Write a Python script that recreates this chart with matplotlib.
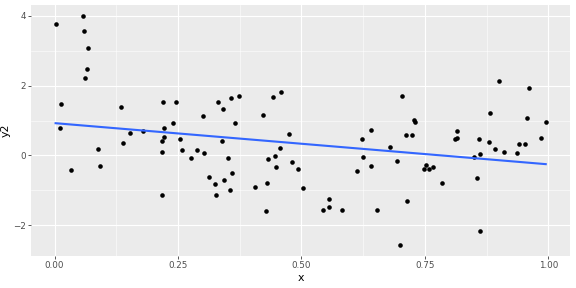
import numpy as np
import matplotlib
matplotlib.use("Agg")
import matplotlib.pyplot as plt

# points
x = [0.002, 0.0575, 0.0595, 0.067, 0.0655, 0.0615, 0.013, 0.011, 0.0325, 0.088,
     0.091, 0.134, 0.139, 0.152, 0.178, 0.219, 0.245, 0.239, 0.222, 0.221,
     0.218, 0.218, 0.217, 0.2545, 0.258, 0.277, 0.289, 0.303, 0.300, 0.330,
     0.342, 0.358, 0.3725, 0.366, 0.339, 0.352, 0.312, 0.325, 0.326, 0.344,
     0.359, 0.356, 0.406, 0.4305, 0.4285, 0.423, 0.443, 0.4595, 0.4745, 0.4555,
     0.447, 0.433, 0.449, 0.481, 0.4925, 0.5035, 0.543, 0.555, 0.555, 0.582,
     0.612, 0.6255, 0.623, 0.640, 0.641, 0.652, 0.680, 0.693, 0.703, 0.713,
     0.6995, 0.711, 0.724, 0.727, 0.730, 0.748, 0.752, 0.758, 0.767, 0.784,
     0.811, 0.815, 0.815, 0.849, 0.855, 0.861, 0.859, 0.861, 0.881, 0.880,
     0.892, 0.900, 0.911, 0.937, 0.940, 0.9535, 0.957, 0.9615, 0.9845, 0.9947]
y2 = [3.77, 3.99, 3.57, 3.09, 2.49, 2.22, 1.48, 0.78, -0.42, 0.17,
      -0.30, 1.38, 0.36, 0.65, 0.70, 1.53, 1.53, 0.94, 0.78, 0.53,
      0.40, 0.11, -1.13, 0.48, 0.16, -0.08, 0.15, 0.06, 1.12, 1.53,
      1.32, 1.64, 1.69, 0.94, 0.42, -0.07, -0.62, -0.83, -1.13, -0.70,
      -0.50, -1.00, -0.90, -0.78, -1.60, 1.16, 1.67, 1.81, 0.62, 0.21,
      -0.02, -0.11, -0.33, -0.18, -0.39, -0.94, -1.56, -1.26, -1.49, -1.58,
      -0.44, -0.04, 0.47, 0.74, -0.30, -1.57, 0.25, -0.15, 1.71, -1.30,
      -2.56, 0.59, 0.59, 1.02, 0.97, -0.39, -0.28, -0.40, -0.32, -0.78,
      0.48, 0.50, 0.71, -0.04, -0.64, 0.04, 0.48, -2.18, 1.23, 0.37,
      0.19, 2.14, 0.10, 0.07, 0.32, 0.32, 1.07, 1.94, 0.50, 0.96]

x = np.array(x)
y2 = np.array(y2)

fig = plt.figure(figsize=(8, 4), dpi=72)
ax = fig.add_axes([0.054, 0.111, 0.936, 0.872])
ax.set_facecolor("#EBEBEB")
for s in ax.spines.values():
    s.set_visible(False)

xr = x.max() - x.min()
yr = y2.max() - y2.min()
ax.set_xlim(x.min() - 0.05 * xr, x.max() + 0.05 * xr)
ax.set_ylim(y2.min() - 0.05 * yr, y2.max() + 0.05 * yr)

ax.set_xticks([0, 0.25, 0.5, 0.75, 1.0])
ax.set_xticklabels(["0.00", "0.25", "0.50", "0.75", "1.00"])
ax.set_yticks([-2, 0, 2, 4])
ax.set_xticks([0.125, 0.375, 0.625, 0.875], minor=True)
ax.set_yticks([-1, 1, 3], minor=True)
ax.grid(which="major", color="white", linewidth=1.1)
ax.grid(which="minor", color="white", linewidth=0.55)
ax.set_axisbelow(True)
ax.tick_params(which="major", length=2.75, width=0.8, color="#333333",
               labelsize=8.8, labelcolor="#4D4D4D", pad=2)
ax.tick_params(which="minor", length=0)

ax.scatter(x, y2, s=21, color="black", zorder=3, linewidths=0)

# linear fit like geom_smooth(method = "lm", se = FALSE)
b, a = np.polyfit(x, y2, 1)
xs = np.array([x.min(), x.max()])
ax.plot(xs, a + b * xs, color="#3366FF", linewidth=2.1, zorder=4)

ax.set_xlabel("x", fontsize=11, labelpad=3)
ax.set_ylabel("y2", fontsize=11, labelpad=3)

fig.savefig("out.png", dpi=72)
